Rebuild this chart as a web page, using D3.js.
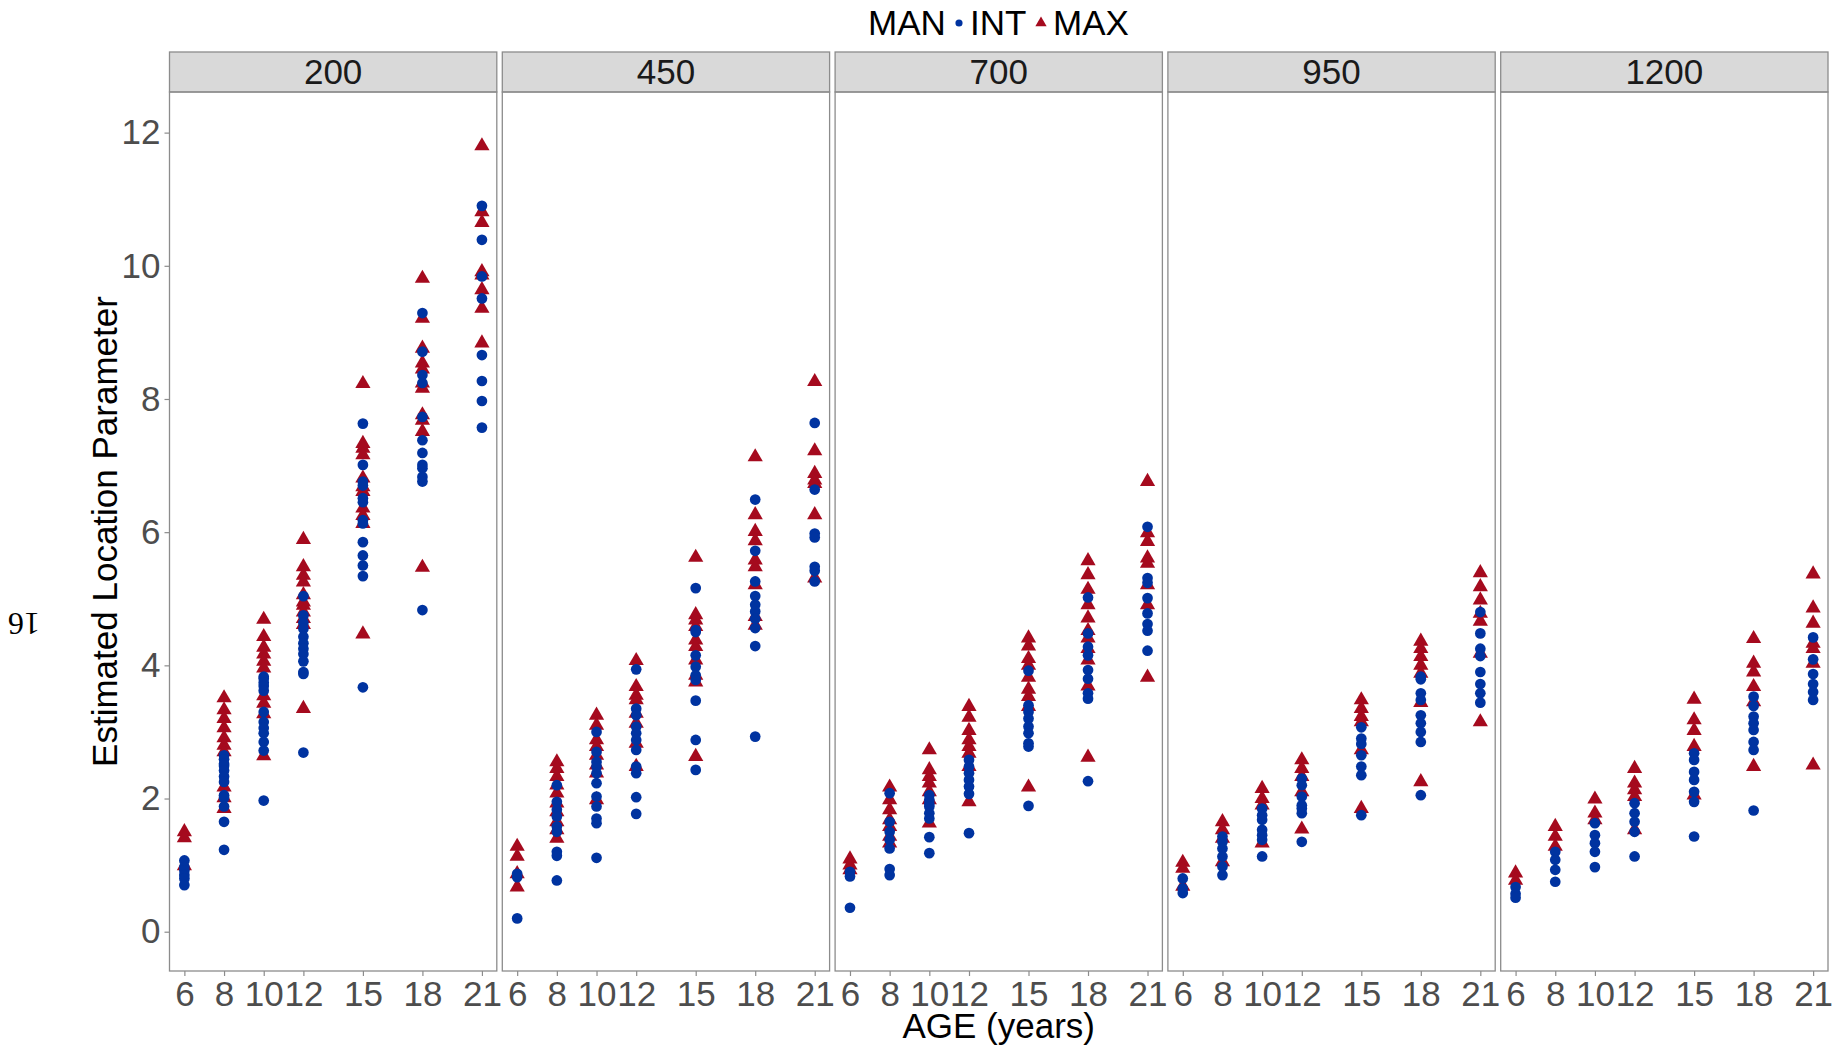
<!DOCTYPE html>
<html>
<head>
<meta charset="utf-8">
<script src="https://cdn.jsdelivr.net/npm/d3@7"></script>
<style>
  body { margin: 0; background: #fff; }
  svg { display: block; font-family: "Liberation Sans", Arial, sans-serif; }
</style>
</head>
<body>
<div id="chart"></div>
<script>
// ages on the x axis, one facet per group size
var ages = [6, 8, 10, 12, 15, 18, 21];
var panels = ["200", "450", "700", "950", "1200"];
var yTicks = [0, 2, 4, 6, 8, 10, 12];

// estimated location parameter, one list per age
var int200 = [
  [1.07, 0.97, 0.92, 0.85, 0.80, 0.70],
  [2.65, 2.59, 2.52, 2.49, 2.42, 2.33, 2.25, 2.05, 2.01, 1.88, 1.65, 1.23],
  [3.83, 3.80, 3.74, 3.69, 3.62, 3.30, 3.15, 3.06, 2.98, 2.85, 2.72, 1.97],
  [5.04, 4.75, 4.64, 4.55, 4.43, 4.33, 4.25, 4.17, 4.06, 3.90, 3.87, 2.69],
  [7.63, 7.01, 6.76, 6.70, 6.51, 6.45, 6.18, 6.13, 5.85, 5.65, 5.50, 5.34, 3.67],
  [9.29, 8.71, 8.36, 8.24, 7.73, 7.38, 7.19, 7.01, 6.96, 6.83, 6.76, 4.83],
  [10.90, 10.39, 9.84, 9.51, 8.66, 8.27, 7.97, 7.57]
];
var max200 = [
  [1.50, 1.41, 0.99],
  [3.51, 3.33, 3.20, 3.06, 2.91, 2.80, 2.70, 2.17, 2.01, 1.85],
  [4.69, 4.43, 4.27, 4.17, 4.06, 3.96, 3.54, 3.43, 3.27, 2.64],
  [5.89, 5.48, 5.35, 5.25, 5.06, 4.95, 4.90, 4.80, 4.70, 4.61, 3.35],
  [8.23, 7.33, 7.26, 7.16, 6.81, 6.68, 6.61, 6.36, 6.25, 6.13, 4.47],
  [9.81, 9.21, 8.76, 8.54, 8.45, 8.24, 8.16, 7.76, 7.68, 7.51, 5.47],
  [11.80, 10.81, 10.65, 9.91, 9.86, 9.64, 9.36, 8.84]
];
var int450 = [
  [0.87, 0.82, 0.20],
  [2.20, 1.95, 1.83, 1.73, 1.58, 1.50, 1.20, 1.14, 0.77],
  [3.00, 2.70, 2.55, 2.48, 2.38, 2.23, 2.03, 1.88, 1.70, 1.63, 1.11],
  [3.94, 3.35, 3.25, 3.08, 2.98, 2.88, 2.73, 2.48, 2.38, 2.02, 1.77],
  [5.16, 4.53, 4.50, 4.15, 3.98, 3.85, 3.78, 3.47, 2.88, 2.43],
  [6.49, 5.72, 5.26, 5.04, 4.91, 4.81, 4.70, 4.56, 4.29, 2.93],
  [7.64, 6.64, 5.98, 5.92, 5.48, 5.42, 5.26]
];
var max450 = [
  [1.28, 1.13, 0.87, 0.67],
  [2.55, 2.45, 2.33, 2.20, 2.08, 1.93, 1.80, 1.65, 1.53, 1.40],
  [3.25, 3.10, 2.88, 2.78, 2.65, 2.50, 2.38, 1.98],
  [4.07, 3.68, 3.55, 3.48, 3.28, 3.13, 2.83, 2.48],
  [5.62, 4.76, 4.68, 4.58, 4.38, 4.28, 4.08, 3.85, 3.75, 2.63],
  [7.13, 6.26, 6.01, 5.87, 5.58, 5.48, 5.21, 4.73, 4.60],
  [8.26, 7.22, 6.88, 6.78, 6.73, 6.26, 5.31]
];
var int700 = [
  [0.90, 0.83, 0.36],
  [2.08, 1.65, 1.50, 1.38, 1.25, 0.94, 0.85],
  [2.05, 1.98, 1.92, 1.88, 1.78, 1.70, 1.42, 1.18],
  [2.58, 2.48, 2.38, 2.28, 2.18, 2.07, 1.48],
  [3.92, 3.40, 3.30, 3.20, 3.08, 2.98, 2.83, 2.78, 1.89],
  [5.02, 4.48, 4.28, 4.15, 3.93, 3.80, 3.58, 3.50, 2.26],
  [6.08, 5.31, 5.24, 5.01, 4.78, 4.62, 4.52, 4.22]
];
var max700 = [
  [1.09, 1.00, 0.93],
  [2.17, 1.98, 1.83, 1.68, 1.58, 1.43, 1.33],
  [2.73, 2.43, 2.33, 2.23, 2.10, 1.98, 1.63],
  [3.38, 3.22, 3.02, 2.88, 2.78, 2.68, 2.48, 1.95],
  [4.41, 4.29, 4.10, 4.00, 3.82, 3.64, 3.53, 3.38, 2.17],
  [5.57, 5.36, 5.14, 4.91, 4.71, 4.52, 4.41, 4.25, 4.08, 3.69, 2.62],
  [6.76, 5.99, 5.86, 5.61, 5.53, 5.21, 4.91, 3.82]
];
var int950 = [
  [0.80, 0.65, 0.58],
  [1.43, 1.35, 1.25, 1.13, 0.98, 0.85],
  [1.85, 1.75, 1.68, 1.53, 1.45, 1.38, 1.13],
  [2.30, 2.20, 2.03, 1.90, 1.85, 1.78, 1.35],
  [3.07, 2.90, 2.82, 2.65, 2.48, 2.35, 1.75],
  [3.83, 3.79, 3.58, 3.48, 3.25, 3.13, 3.00, 2.85, 2.05],
  [4.80, 4.48, 4.25, 4.14, 3.90, 3.72, 3.58, 3.44]
];
var max950 = [
  [1.04, 0.95, 0.68],
  [1.65, 1.53, 1.40, 1.05],
  [2.15, 2.00, 1.90, 1.33],
  [2.58, 2.45, 2.33, 2.10, 1.54],
  [3.48, 3.35, 3.23, 3.15, 2.73, 1.85],
  [4.36, 4.25, 4.13, 4.00, 3.88, 3.44, 2.25],
  [5.39, 5.18, 4.98, 4.78, 4.66, 4.18, 3.15]
];
var int1200 = [
  [0.67, 0.57, 0.51],
  [1.20, 1.08, 0.93, 0.75],
  [1.63, 1.45, 1.33, 1.20, 0.97],
  [1.93, 1.78, 1.65, 1.50, 1.13],
  [2.68, 2.58, 2.40, 2.28, 2.10, 1.95, 1.43],
  [3.53, 3.39, 3.23, 3.13, 3.03, 2.85, 2.73, 1.82],
  [4.42, 4.09, 3.87, 3.72, 3.60, 3.48]
];
var max1200 = [
  [0.88, 0.77],
  [1.58, 1.43, 1.28],
  [1.99, 1.78, 1.68],
  [2.45, 2.23, 2.13, 2.03, 1.53],
  [3.49, 3.18, 3.02, 2.78, 2.05],
  [4.40, 4.03, 3.90, 3.68, 3.45, 2.48],
  [5.37, 4.86, 4.63, 4.33, 4.25, 4.03, 2.50]
];

var intData = [int200, int450, int700, int950, int1200];
var maxData = [max200, max450, max700, max950, max1200];

var blue = "#0033a0", red = "#a50a1e";

var W = 1845, H = 1049;
var svg = d3.select("#chart").append("svg").attr("width", W).attr("height", H);

var left0 = 169.5, panelW = 327.3, gap = 5.5, panelTop = 92, panelBottom = 971;

var x = d3.scaleLinear().domain([5.25, 21.75]).range([0, panelW]);
var y = d3.scaleLinear().domain([-0.59, 12.61]).range([panelBottom, panelTop]);

var circ = d3.symbol().type(d3.symbolCircle).size(90);
var tri = d3.symbol().type(d3.symbolTriangle).size(100);

// flatten helper
function flat(groups) {
  var out = [];
  groups.forEach(function(vals, i) {
    vals.forEach(function(v) { out.push({age: ages[i], v: v}); });
  });
  return out;
}

panels.forEach(function(p, k) {
  var px = left0 + k * (panelW + gap);
  var g = svg.append("g").attr("transform", "translate(" + px + ",0)");

  // strip
  g.append("rect").attr("x", 0).attr("y", 52).attr("width", panelW).attr("height", panelTop - 52)
    .attr("fill", "#d9d9d9").attr("stroke", "#8c8c8c").attr("stroke-width", 1.3);
  g.append("text").attr("x", panelW / 2).attr("y", 84).attr("text-anchor", "middle")
    .attr("font-size", 35).attr("fill", "#1a1a1a").text(p);

  // x axis
  var xa = g.append("g").attr("transform", "translate(0," + panelBottom + ")")
    .call(d3.axisBottom(x).tickValues(ages).tickSize(5).tickPadding(5));
  xa.select(".domain").remove();
  xa.selectAll("line").attr("stroke", "#8c8c8c").attr("stroke-width", 1.2);
  xa.selectAll("text").attr("font-size", 35).attr("fill", "#4d4d4d")
    .attr("font-family", "Liberation Sans, Arial, sans-serif");

  // points
  g.selectAll(".mx").data(flat(maxData[k])).enter().append("path")
    .attr("d", tri)
    .attr("transform", function(d) { return "translate(" + x(d.age) + "," + y(d.v) + ")"; })
    .attr("fill", red);
  g.selectAll(".in").data(flat(intData[k])).enter().append("path")
    .attr("d", circ)
    .attr("transform", function(d) { return "translate(" + x(d.age) + "," + y(d.v) + ")"; })
    .attr("fill", blue);

  g.append("rect").attr("x", 0).attr("y", panelTop).attr("width", panelW).attr("height", panelBottom - panelTop)
    .attr("fill", "none").attr("stroke", "#8c8c8c").attr("stroke-width", 1.3);
});

// y axis on first panel
var ya = svg.append("g").attr("transform", "translate(" + left0 + ",0)")
  .call(d3.axisLeft(y).tickValues(yTicks).tickSize(5).tickPadding(4));
ya.select(".domain").remove();
ya.selectAll("line").attr("stroke", "#8c8c8c").attr("stroke-width", 1.2);
ya.selectAll("text").attr("font-size", 35).attr("fill", "#4d4d4d")
  .attr("font-family", "Liberation Sans, Arial, sans-serif");

// axis titles
svg.append("text").attr("x", (left0 + left0 + 5 * panelW + 4 * gap) / 2).attr("y", 1038)
  .attr("text-anchor", "middle").attr("font-size", 35).attr("fill", "#000").text("AGE (years)");
svg.append("text").attr("transform", "translate(117," + (panelTop + panelBottom) / 2 + ") rotate(-90)")
  .attr("text-anchor", "middle").attr("font-size", 35).attr("fill", "#000")
  .text("Estimated Location Parameter");

// legend
var lg = svg.append("g");
lg.append("text").attr("x", 868).attr("y", 35).attr("font-size", 35).text("MAN");
lg.append("path").attr("d", d3.symbol().type(d3.symbolCircle).size(40))
  .attr("transform", "translate(959,23)").attr("fill", blue);
lg.append("text").attr("x", 970).attr("y", 35).attr("font-size", 35).text("INT");
lg.append("path").attr("d", d3.symbol().type(d3.symbolTriangle).size(55))
  .attr("transform", "translate(1041,23)").attr("fill", red);
lg.append("text").attr("x", 1053).attr("y", 35).attr("font-size", 35).text("MAX");

// page number from the source document
svg.append("text").attr("transform", "translate(24,624) rotate(180)")
  .attr("text-anchor", "middle").attr("dy", "0.35em")
  .attr("font-family", "Liberation Serif, serif").attr("font-size", 32).attr("fill", "#000")
  .text("16");
</script>
</body>
</html>
